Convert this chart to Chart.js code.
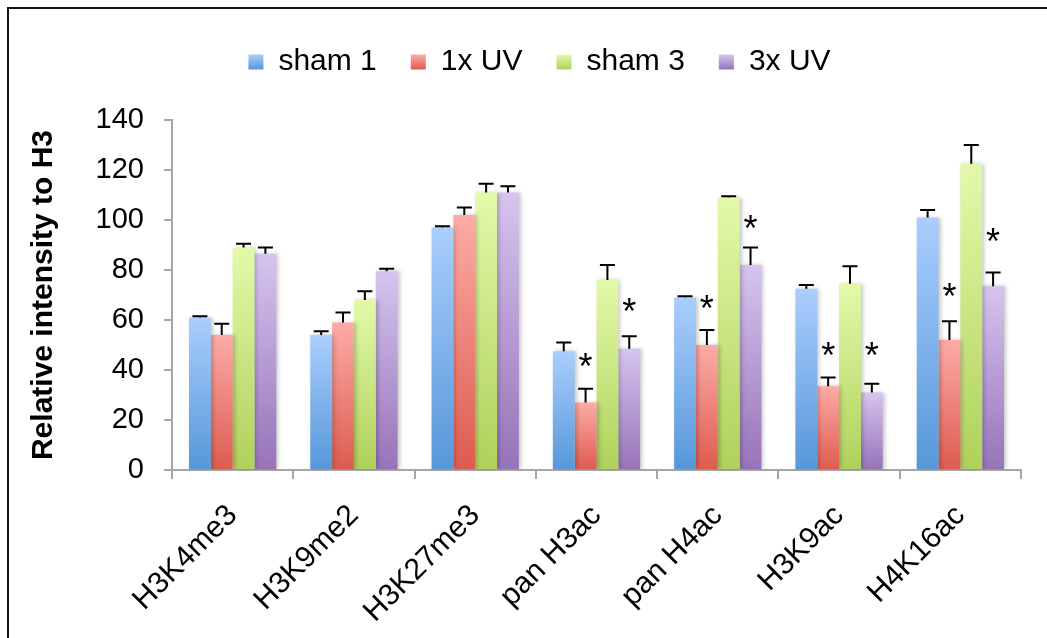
<!DOCTYPE html>
<html>
<head>
<meta charset="utf-8">
<script src="https://cdn.jsdelivr.net/npm/chart.js@4.4.1/dist/chart.umd.min.js"></script>
<style>
  html, body { margin: 0; padding: 0; background: #fff; overflow: hidden; }
  #moldura { position: absolute; left: 7px; top: 7px; width: 1100px; height: 700px; border-left: 2px solid #111; border-top: 2px solid #111; }
  #caixa { position: absolute; left: 0; top: 0; width: 1047px; height: 638px; }
</style>
</head>
<body>
<div id="moldura"></div>
<div id="caixa"><canvas id="grafico" width="1047" height="638"></canvas></div>
<script>
const categorias = ['H3K4me3', 'H3K9me2', 'H3K27me3', 'pan H3ac', 'pan H4ac', 'H3K9ac', 'H4K16ac'];

const sham1 = [61, 54, 97, 47.5, 69, 72.5, 101];
const sham1Erro = [0.5, 1.5, 0.5, 3.5, 0.5, 1.5, 3];
const sham1Estrela = [null, null, null, null, null, null, null];

const uv1 = [54, 59, 102, 27, 50, 33.5, 52];
const uv1Erro = [4.5, 4, 3, 5.5, 6, 3.5, 7.5];
const uv1Estrela = [null, null, null, 44.5, 68, 49, 72.8];

const sham3 = [89, 68, 111, 76, 109, 74.5, 122.5];
const sham3Erro = [1.5, 3.5, 3.5, 6, 0.5, 7, 7.5];
const sham3Estrela = [null, null, null, null, null, null, null];

const uv3 = [86.5, 79.5, 111, 48.5, 82, 31, 73.5];
const uv3Erro = [2.5, 1, 2.5, 5, 7, 3.5, 5.5];
const uv3Estrela = [null, null, null, 66.6, 100, 49, 94.6];

const yTicks = [0, 20, 40, 60, 80, 100, 120, 140];

const fonte = "'Liberation Sans', Arial, sans-serif";
Chart.defaults.font.family = fonte;
Chart.defaults.color = '#000';

const LEG_FONTE = 30, LEG_CAIXA = 15, LEG_PAD = 34;
const ESTRELA = 36;

const cores = [
  ['#aacefd', '#5697d9'],
  ['#fdaba6', '#dd5b4f'],
  ['#e3f9aa', '#afd15a'],
  ['#d6c4ef', '#9673b8']
];

// gradiente vertical por barra (claro em cima, escuro embaixo)
function gradiente(topo, base) {
  return (c) => {
    const chart = c.chart;
    const y = chart.scales.y;
    if (c.type !== 'data' || !y) return base;
    const y0 = y.getPixelForValue(c.raw), y1 = y.getPixelForValue(0);
    if (!isFinite(y0) || !isFinite(y1) || y0 === y1) return base;
    const g = chart.ctx.createLinearGradient(0, y0, 0, y1);
    g.addColorStop(0, topo);
    g.addColorStop(1, base);
    return g;
  };
}

const barrasErro = {
  id: 'barrasErro',
  beforeUpdate(chart) {
    // espaço extra entre a legenda e o gráfico
    const leg = chart.legend;
    if (leg && !leg._ajustado) {
      const fit = leg.fit;
      leg.fit = function () { fit.call(this); this.height += 33; };
      leg._ajustado = true;
    }
  },
  afterLayout(chart) {
    // legenda um pouco para a direita, como no original
    chart.legend.left += 29;
    chart.legend.right += 29;
  },
  beforeDatasetsDraw(chart) {
    const ctx = chart.ctx;
    ctx.save();
    ctx.shadowColor = 'rgba(0,0,0,0.22)';
    ctx.shadowBlur = 4;
    ctx.shadowOffsetX = 2;
    ctx.shadowOffsetY = 0;
  },
  afterDatasetsDraw(chart) {
    const ctx = chart.ctx;
    const y = chart.scales.y;
    ctx.restore();
    ctx.save();
    ctx.strokeStyle = '#000';
    ctx.fillStyle = '#000';
    ctx.lineWidth = 2;
    ctx.font = ESTRELA + 'px ' + fonte;
    ctx.textAlign = 'center';
    ctx.textBaseline = 'alphabetic';
    chart.data.datasets.forEach((ds, i) => {
      const meta = chart.getDatasetMeta(i);
      meta.data.forEach((bar, j) => {
        const topo = y.getPixelForValue(ds.data[j]);
        const fim = y.getPixelForValue(ds.data[j] + ds.erros[j]);
        ctx.beginPath();
        ctx.moveTo(bar.x, topo);
        ctx.lineTo(bar.x, fim);
        ctx.moveTo(bar.x - 7.5, fim);
        ctx.lineTo(bar.x + 7.5, fim);
        ctx.stroke();
        if (ds.estrelas[j] != null) {
          ctx.fillText('*', bar.x, y.getPixelForValue(ds.estrelas[j]) + 0.57 * ESTRELA);
        }
      });
    });
    ctx.restore();
  }
};

function serie(label, dados, erros, estrelas, cor) {
  return {
    label: label,
    data: dados,
    erros: erros,
    estrelas: estrelas,
    backgroundColor: gradiente(cor[0], cor[1]),
    borderWidth: 0,
    categoryPercentage: 0.72,
    barPercentage: 1
  };
}

const ctx = document.getElementById('grafico').getContext('2d');
new Chart(ctx, {
  type: 'bar',
  data: {
    labels: categorias,
    datasets: [
      serie('sham 1', sham1, sham1Erro, sham1Estrela, cores[0]),
      serie('1x UV', uv1, uv1Erro, uv1Estrela, cores[1]),
      serie('sham 3', sham3, sham3Erro, sham3Estrela, cores[2]),
      serie('3x UV', uv3, uv3Erro, uv3Estrela, cores[3])
    ]
  },
  plugins: [barrasErro],
  options: {
    responsive: false,
    animation: false,
    devicePixelRatio: 1,
    layout: { padding: { top: 13, right: 26, left: 0, bottom: 0 } },
    plugins: {
      legend: {
        position: 'top',
        labels: {
          boxWidth: LEG_CAIXA,
          boxHeight: LEG_CAIXA,
          padding: LEG_PAD,
          color: '#000',
          font: { size: LEG_FONTE },
          generateLabels(chart) {
            const itens = Chart.defaults.plugins.legend.labels.generateLabels(chart);
            const leg = chart.legend;
            itens.forEach((it, i) => {
              const cor = cores[i];
              if (leg && isFinite(leg.top)) {
                const a = leg.top + LEG_PAD + (LEG_FONTE - LEG_CAIXA) / 2;
                const g = chart.ctx.createLinearGradient(0, a, 0, a + LEG_CAIXA);
                g.addColorStop(0, cor[0]);
                g.addColorStop(1, cor[1]);
                it.fillStyle = g;
              } else {
                it.fillStyle = cor[1];
              }
              it.strokeStyle = 'rgba(0,0,0,0)';
              it.lineWidth = 0;
            });
            return itens;
          }
        }
      },
      tooltip: { enabled: false }
    },
    scales: {
      x: {
        grid: { drawOnChartArea: false, drawTicks: true, tickLength: 9, color: '#a6a6a6', lineWidth: 2, offset: true },
        border: { color: '#a6a6a6', width: 2 },
        ticks: { font: { size: 30 }, color: '#000', maxRotation: 45, minRotation: 45, padding: 19 },
        afterFit(s) { s.height = 168; }
      },
      y: {
        min: 0,
        max: 140,
        afterBuildTicks(s) { s.ticks = yTicks.map(v => ({ value: v })); },
        ticks: { font: { size: 29 }, color: '#000', padding: 20 },
        grid: { drawOnChartArea: false, tickLength: 8, color: '#a6a6a6', lineWidth: 2 },
        border: { color: '#a6a6a6', width: 2 },
        title: {
          display: true,
          text: 'Relative intensity to H3',
          color: '#000',
          font: { size: 30, weight: 'bold' },
          padding: { top: 26, bottom: 0 }
        },
        afterFit(s) { s.width = 172; }
      }
    }
  }
});
</script>
</body>
</html>
